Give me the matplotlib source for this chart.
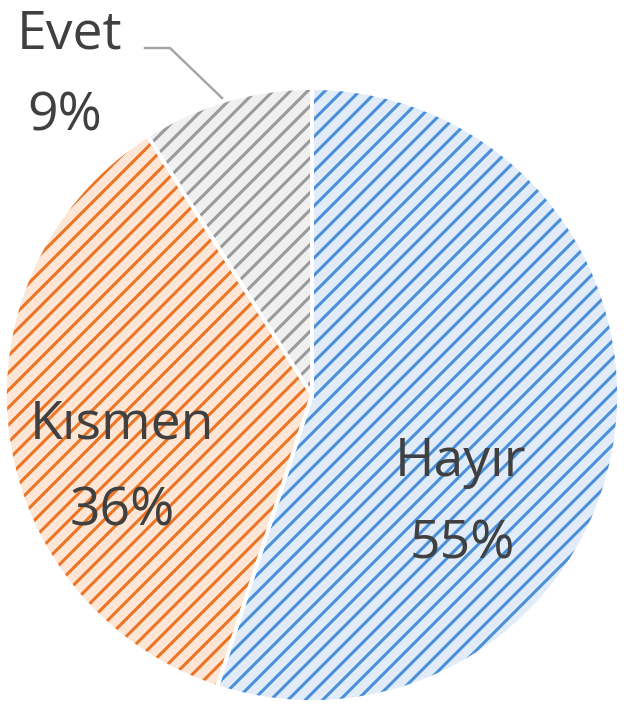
import matplotlib.pyplot as plt

labels = ["Hayır", "Kısmen", "Evet"]
values = [55, 36, 9]
face_colors = ["#e2ecf8", "#fde6d5", "#f0f0f0"]
hatch_colors = ["#4a90d9", "#ec7425", "#9a9a9a"]

plt.rcParams["hatch.linewidth"] = 2.1

W, H = 624, 718
dpi = 104
fig = plt.figure(figsize=(W / dpi, H / dpi), dpi=dpi)
ax = fig.add_axes([0, 0, 1, 1])

cx, cy, r = 312, H - 395, 307

# hatched fill
wedges, _ = ax.pie(values, startangle=90, counterclock=False,
                   center=(cx, cy), radius=r, frame=True)
for w, fc, hc in zip(wedges, face_colors, hatch_colors):
    w.set_facecolor(fc)
    w.set_edgecolor(hc)
    w.set_linewidth(0)
    w.set_hatch("//")

# white separators on top
ax.pie(values, startangle=90, counterclock=False,
       center=(cx, cy), radius=r, frame=True,
       wedgeprops=dict(facecolor="none", edgecolor="white", linewidth=2.6))
ax.set_xlim(0, W)
ax.set_ylim(0, H)
ax.axis("off")

font = dict(family="Open Sans", size=37, color="#404040", ha="center", va="center")
ax.text(460, H - 462, "Hayır", **font)
ax.text(462, H - 545, "55%", **font)
ax.text(122, H - 425, "Kısmen", **font)
ax.text(122, H - 512, "36%", **font)
ax.text(70, H - 35, "Evet", **font)
ax.text(65, H - 117, "9%", **font)

# leader line for Evet
ax.plot([145, 170, 222], [H - 48, H - 48, H - 98], color="#a6a6a6", lw=1.7)

fig.savefig("out.png", dpi=dpi)
